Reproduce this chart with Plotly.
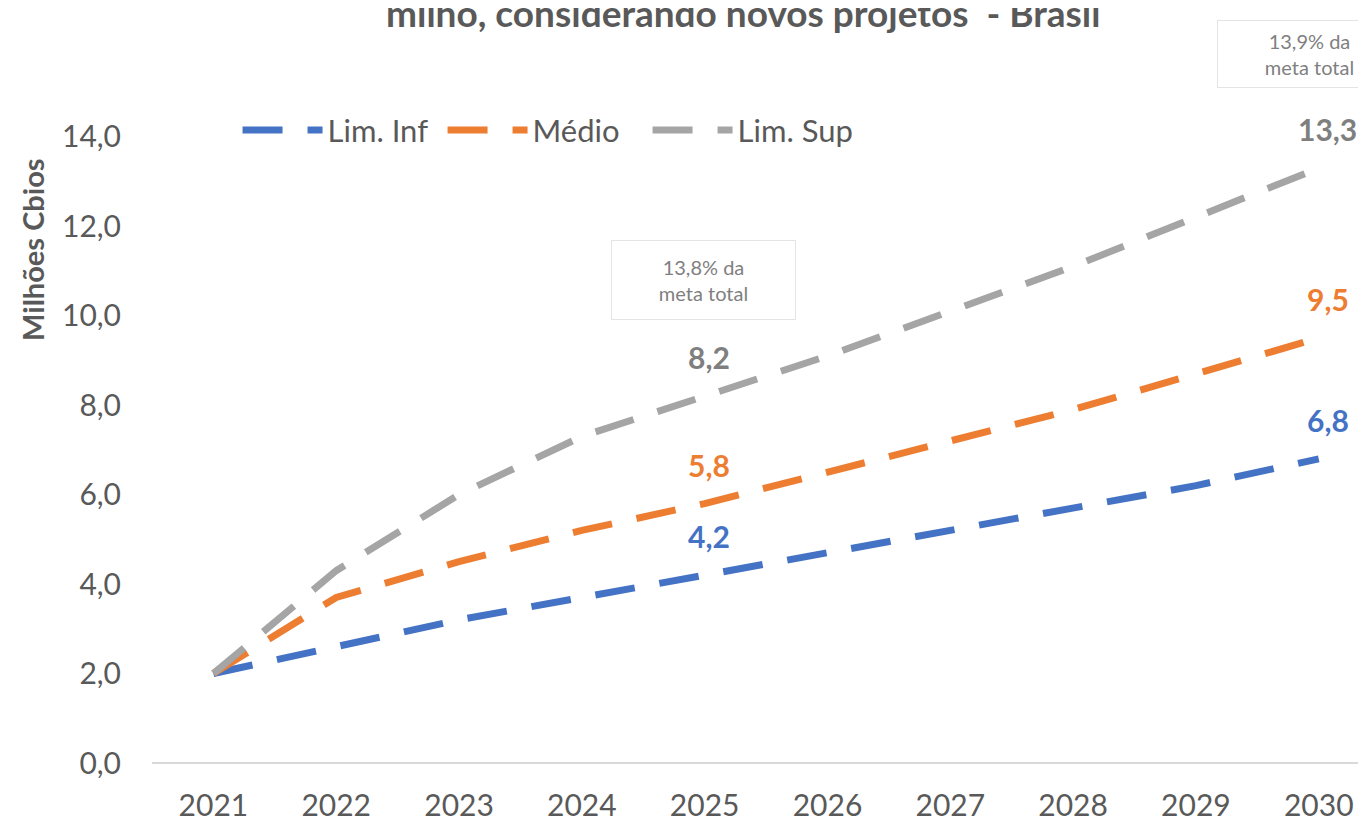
import plotly.graph_objects as go

anos = [2021, 2022, 2023, 2024, 2025, 2026, 2027, 2028, 2029, 2030]
lim_inf = [2.0, 2.6, 3.2, 3.7, 4.2, 4.7, 5.2, 5.7, 6.2, 6.8]
medio = [2.0, 3.7, 4.5, 5.2, 5.8, 6.5, 7.2, 7.9, 8.7, 9.5]
lim_sup = [2.0, 4.3, 6.0, 7.3, 8.2, 9.1, 10.1, 11.1, 12.2, 13.3]
y_ticks = [0, 2, 4, 6, 8, 10, 12, 14]
y_tick_labels = ["0,0", "2,0", "4,0", "6,0", "8,0", "10,0", "12,0", "14,0"]

series = [
    ("Lim. Inf", lim_inf, "#4472C4", "#4472C4"),
    ("Médio", medio, "#ED7D31", "#ED7D31"),
    ("Lim. Sup", lim_sup, "#A5A5A5", "#7F7F7F"),
]

FONT = "Lato, 'Open Sans', sans-serif"
GRAY = "#595959"

fig = go.Figure()
for nome, valores, cor, _ in series:
    fig.add_trace(go.Scatter(
        x=anos, y=valores, name=nome, mode="lines",
        line=dict(color=cor, width=7, dash="40px,25px"),
    ))

annotations = []
# rótulos de dados em 2025 e 2030
for nome, valores, _, cor_txt in series:
    for ano, xs in [(2025, 4), (2030, 9)]:
        v = valores[anos.index(ano)]
        annotations.append(dict(
            x=ano, y=v, xref="x", yref="y",
            text="<b>" + f"{v:.1f}".replace(".", ",") + "</b>",
            showarrow=False, yshift=39, xshift=xs,
            font=dict(family=FONT, size=30, color=cor_txt),
        ))

# caixas "meta total"
caixas = [
    ("13,8% da<br>meta total", 0.451, 0.72, 58),
    ("13,9% da<br>meta total", 0.947, 1.057, 46),
]
for txt, xc, yc, h in caixas:
    annotations.append(dict(
        x=xc, y=yc, xref="paper", yref="paper", xanchor="center",
        yanchor="middle", text=txt, showarrow=False,
        font=dict(family=FONT, size=20, color="#7F7F7F"),
        bordercolor="#E4E4E4", borderwidth=1, borderpad=10,
        bgcolor="white", width=163, height=h,
    ))

annotations.append(dict(
    x=0.484, y=1.119, xref="paper", yref="paper", yanchor="middle",
    xanchor="center",
    text="<b>milho, considerando novos projetos  - Brasil</b>",
    showarrow=False,
    font=dict(family=FONT, size=37, color=GRAY),
))
annotations.append(dict(
    x=-0.098, y=0.765, xref="paper", yref="paper", textangle=-90,
    xanchor="center", yanchor="middle",
    text="<b>Milhões Cbios</b>", showarrow=False,
    font=dict(family=FONT, size=29, color=GRAY),
))

# a página tem 8px de margem no body: compensado nas margens
fig.update_layout(
    width=1366, height=822,
    margin=dict(l=144, r=0, t=84, b=67),
    paper_bgcolor="white", plot_bgcolor="white",
    font=dict(family=FONT, size=30, color=GRAY),
    showlegend=True,
    legend=dict(
        orientation="h", x=0.07, y=0.943, xanchor="left", yanchor="middle",
        font=dict(family=FONT, size=31, color=GRAY),
        bgcolor="rgba(0,0,0,0)", itemwidth=80, entrywidth=110,
    ),
    xaxis=dict(
        range=[2020.5, 2030.45], tickmode="array", tickvals=anos,
        ticks="outside", ticklen=16, tickcolor="rgba(0,0,0,0)",
        showgrid=False, zeroline=False, showline=False, automargin=False,
        tickfont=dict(family=FONT, size=30, color=GRAY),
    ),
    yaxis=dict(
        range=[0, 15], tickmode="array", tickvals=y_ticks,
        ticktext=y_tick_labels, ticks="outside", ticklen=24,
        tickcolor="rgba(0,0,0,0)", showgrid=False,
        zeroline=True, zerolinecolor="#D9D9D9", zerolinewidth=2,
        showline=False, automargin=False,
        tickfont=dict(family=FONT, size=30, color=GRAY),
    ),
    annotations=annotations,
)

fig.write_html("out.html")
